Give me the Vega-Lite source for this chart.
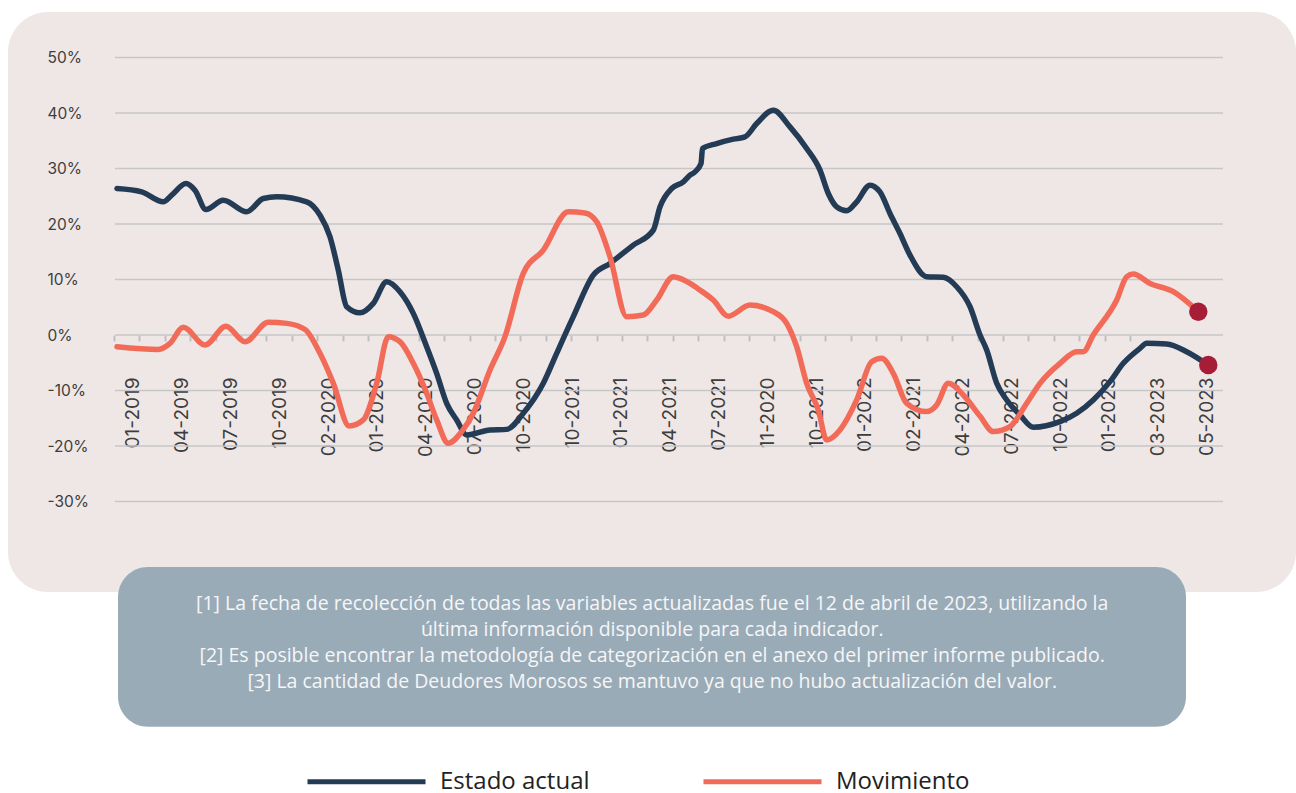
{
  "$schema": "https://vega.github.io/schema/vega-lite/v6.json",
  "width": 1288,
  "height": 580,
  "autosize": {"type": "none"},
  "padding": {"left": 8, "top": 12, "right": 0, "bottom": 201},
  "background": "#ffffff",
  "config": {
    "view": {"fill": "#efe7e6", "stroke": null, "cornerRadius": 40},
    "font": "Open Sans"
  },
  "resolve": {"axis": {"x": "independent"}},
  "datasets": {
    "rejilla": [{"v": -30}, {"v": -20}, {"v": -10}, {"v": 0}, {"v": 10}, {"v": 20}, {"v": 30}, {"v": 40}, {"v": 50}],
    "series": [
      {"serie": "Estado actual", "t": -0.328, "v": 26.4},
      {"serie": "Estado actual", "t": 0.178, "v": 25.8},
      {"serie": "Estado actual", "t": 0.621, "v": 24.0},
      {"serie": "Estado actual", "t": 0.793, "v": 25.2},
      {"serie": "Estado actual", "t": 1.086, "v": 27.3},
      {"serie": "Estado actual", "t": 1.27, "v": 26.1},
      {"serie": "Estado actual", "t": 1.496, "v": 22.6},
      {"serie": "Estado actual", "t": 1.85, "v": 24.3},
      {"serie": "Estado actual", "t": 2.33, "v": 22.2},
      {"serie": "Estado actual", "t": 2.67, "v": 24.6},
      {"serie": "Estado actual", "t": 2.945, "v": 24.9},
      {"serie": "Estado actual", "t": 3.559, "v": 24.0},
      {"serie": "Estado actual", "t": 3.832, "v": 21.6},
      {"serie": "Estado actual", "t": 4.037, "v": 17.7},
      {"serie": "Estado actual", "t": 4.207, "v": 11.7},
      {"serie": "Estado actual", "t": 4.379, "v": 5.1},
      {"serie": "Estado actual", "t": 4.652, "v": 4.0},
      {"serie": "Estado actual", "t": 4.924, "v": 5.7},
      {"serie": "Estado actual", "t": 5.199, "v": 9.6},
      {"serie": "Estado actual", "t": 5.471, "v": 7.8},
      {"serie": "Estado actual", "t": 5.744, "v": 3.9},
      {"serie": "Estado actual", "t": 6.018, "v": -2.1},
      {"serie": "Estado actual", "t": 6.223, "v": -6.9},
      {"serie": "Estado actual", "t": 6.428, "v": -12.3},
      {"serie": "Estado actual", "t": 6.633, "v": -15.3},
      {"serie": "Estado actual", "t": 6.838, "v": -18.0},
      {"serie": "Estado actual", "t": 7.316, "v": -17.1},
      {"serie": "Estado actual", "t": 7.658, "v": -17.0},
      {"serie": "Estado actual", "t": 7.998, "v": -14.1},
      {"serie": "Estado actual", "t": 8.408, "v": -8.7},
      {"serie": "Estado actual", "t": 8.682, "v": -3.3},
      {"serie": "Estado actual", "t": 9.023, "v": 3.3},
      {"serie": "Estado actual", "t": 9.432, "v": 10.8},
      {"serie": "Estado actual", "t": 9.775, "v": 12.9},
      {"serie": "Estado actual", "t": 10.252, "v": 16.2},
      {"serie": "Estado actual", "t": 10.662, "v": 18.9},
      {"serie": "Estado actual", "t": 10.799, "v": 23.1},
      {"serie": "Estado actual", "t": 11.039, "v": 26.4},
      {"serie": "Estado actual", "t": 11.277, "v": 27.6},
      {"serie": "Estado actual", "t": 11.414, "v": 28.8},
      {"serie": "Estado actual", "t": 11.516, "v": 29.4},
      {"serie": "Estado actual", "t": 11.64, "v": 30.9},
      {"serie": "Estado actual", "t": 11.67, "v": 33.6},
      {"serie": "Estado actual", "t": 11.961, "v": 34.5},
      {"serie": "Estado actual", "t": 12.301, "v": 35.3},
      {"serie": "Estado actual", "t": 12.541, "v": 35.7},
      {"serie": "Estado actual", "t": 12.781, "v": 38.1},
      {"serie": "Estado actual", "t": 13.121, "v": 40.5},
      {"serie": "Estado actual", "t": 13.463, "v": 37.5},
      {"serie": "Estado actual", "t": 13.805, "v": 33.6},
      {"serie": "Estado actual", "t": 14.078, "v": 29.7},
      {"serie": "Estado actual", "t": 14.248, "v": 25.5},
      {"serie": "Estado actual", "t": 14.42, "v": 23.1},
      {"serie": "Estado actual", "t": 14.625, "v": 22.4},
      {"serie": "Estado actual", "t": 14.83, "v": 24.0},
      {"serie": "Estado actual", "t": 15.102, "v": 27.0},
      {"serie": "Estado actual", "t": 15.307, "v": 25.8},
      {"serie": "Estado actual", "t": 15.512, "v": 21.9},
      {"serie": "Estado actual", "t": 15.717, "v": 18.3},
      {"serie": "Estado actual", "t": 15.922, "v": 14.4},
      {"serie": "Estado actual", "t": 16.264, "v": 10.5},
      {"serie": "Estado actual", "t": 16.605, "v": 10.4},
      {"serie": "Estado actual", "t": 16.879, "v": 8.7},
      {"serie": "Estado actual", "t": 17.152, "v": 5.1},
      {"serie": "Estado actual", "t": 17.357, "v": 0.0},
      {"serie": "Estado actual", "t": 17.494, "v": -2.7},
      {"serie": "Estado actual", "t": 17.699, "v": -8.7},
      {"serie": "Estado actual", "t": 17.904, "v": -11.7},
      {"serie": "Estado actual", "t": 18.176, "v": -14.4},
      {"serie": "Estado actual", "t": 18.449, "v": -16.6},
      {"serie": "Estado actual", "t": 18.996, "v": -15.6},
      {"serie": "Estado actual", "t": 19.338, "v": -14.1},
      {"serie": "Estado actual", "t": 19.678, "v": -11.7},
      {"serie": "Estado actual", "t": 20.02, "v": -8.4},
      {"serie": "Estado actual", "t": 20.293, "v": -5.1},
      {"serie": "Estado actual", "t": 20.635, "v": -2.4},
      {"serie": "Estado actual", "t": 20.773, "v": -1.5},
      {"serie": "Estado actual", "t": 21.182, "v": -1.6},
      {"serie": "Estado actual", "t": 21.592, "v": -3.0},
      {"serie": "Estado actual", "t": 22.035, "v": -5.4},
      {"serie": "Movimiento", "t": -0.328, "v": -2.1},
      {"serie": "Movimiento", "t": 0.518, "v": -2.6},
      {"serie": "Movimiento", "t": 0.758, "v": -1.5},
      {"serie": "Movimiento", "t": 1.031, "v": 1.4},
      {"serie": "Movimiento", "t": 1.475, "v": -1.8},
      {"serie": "Movimiento", "t": 1.906, "v": 1.6},
      {"serie": "Movimiento", "t": 2.295, "v": -1.2},
      {"serie": "Movimiento", "t": 2.773, "v": 2.3},
      {"serie": "Movimiento", "t": 3.15, "v": 2.1},
      {"serie": "Movimiento", "t": 3.525, "v": 1.0},
      {"serie": "Movimiento", "t": 3.832, "v": -3.3},
      {"serie": "Movimiento", "t": 4.105, "v": -8.7},
      {"serie": "Movimiento", "t": 4.432, "v": -16.4},
      {"serie": "Movimiento", "t": 4.719, "v": -15.3},
      {"serie": "Movimiento", "t": 4.994, "v": -8.7},
      {"serie": "Movimiento", "t": 5.232, "v": -0.3},
      {"serie": "Movimiento", "t": 5.471, "v": -1.2},
      {"serie": "Movimiento", "t": 5.744, "v": -5.1},
      {"serie": "Movimiento", "t": 6.018, "v": -10.5},
      {"serie": "Movimiento", "t": 6.223, "v": -15.3},
      {"serie": "Movimiento", "t": 6.461, "v": -19.5},
      {"serie": "Movimiento", "t": 6.736, "v": -17.4},
      {"serie": "Movimiento", "t": 6.973, "v": -14.1},
      {"serie": "Movimiento", "t": 7.316, "v": -6.3},
      {"serie": "Movimiento", "t": 7.623, "v": -0.3},
      {"serie": "Movimiento", "t": 7.998, "v": 11.1},
      {"serie": "Movimiento", "t": 8.408, "v": 15.3},
      {"serie": "Movimiento", "t": 8.92, "v": 22.2},
      {"serie": "Movimiento", "t": 9.262, "v": 22.0},
      {"serie": "Movimiento", "t": 9.502, "v": 20.4},
      {"serie": "Movimiento", "t": 9.775, "v": 14.1},
      {"serie": "Movimiento", "t": 10.117, "v": 3.3},
      {"serie": "Movimiento", "t": 10.457, "v": 3.6},
      {"serie": "Movimiento", "t": 10.732, "v": 6.3},
      {"serie": "Movimiento", "t": 11.072, "v": 10.5},
      {"serie": "Movimiento", "t": 11.209, "v": 10.2},
      {"serie": "Movimiento", "t": 11.414, "v": 9.3},
      {"serie": "Movimiento", "t": 11.619, "v": 8.1},
      {"serie": "Movimiento", "t": 11.891, "v": 6.3},
      {"serie": "Movimiento", "t": 12.199, "v": 3.4},
      {"serie": "Movimiento", "t": 12.643, "v": 5.4},
      {"serie": "Movimiento", "t": 13.121, "v": 4.2},
      {"serie": "Movimiento", "t": 13.395, "v": 2.1},
      {"serie": "Movimiento", "t": 13.6, "v": -2.1},
      {"serie": "Movimiento", "t": 13.805, "v": -8.7},
      {"serie": "Movimiento", "t": 14.043, "v": -13.5},
      {"serie": "Movimiento", "t": 14.215, "v": -18.9},
      {"serie": "Movimiento", "t": 14.488, "v": -17.1},
      {"serie": "Movimiento", "t": 14.83, "v": -11.7},
      {"serie": "Movimiento", "t": 15.137, "v": -4.8},
      {"serie": "Movimiento", "t": 15.342, "v": -4.2},
      {"serie": "Movimiento", "t": 15.58, "v": -6.9},
      {"serie": "Movimiento", "t": 15.854, "v": -12.3},
      {"serie": "Movimiento", "t": 16.264, "v": -13.8},
      {"serie": "Movimiento", "t": 16.469, "v": -12.6},
      {"serie": "Movimiento", "t": 16.707, "v": -8.7},
      {"serie": "Movimiento", "t": 17.014, "v": -10.8},
      {"serie": "Movimiento", "t": 17.356, "v": -14.6},
      {"serie": "Movimiento", "t": 17.629, "v": -17.4},
      {"serie": "Movimiento", "t": 17.971, "v": -16.5},
      {"serie": "Movimiento", "t": 18.314, "v": -12.3},
      {"serie": "Movimiento", "t": 18.586, "v": -8.7},
      {"serie": "Movimiento", "t": 18.996, "v": -5.1},
      {"serie": "Movimiento", "t": 19.338, "v": -3.0},
      {"serie": "Movimiento", "t": 19.473, "v": -3.0},
      {"serie": "Movimiento", "t": 19.678, "v": 0.0},
      {"serie": "Movimiento", "t": 20.158, "v": 6.3},
      {"serie": "Movimiento", "t": 20.363, "v": 10.5},
      {"serie": "Movimiento", "t": 20.498, "v": 11.0},
      {"serie": "Movimiento", "t": 20.84, "v": 9.3},
      {"serie": "Movimiento", "t": 21.318, "v": 7.8},
      {"serie": "Movimiento", "t": 21.83, "v": 4.2}
    ]
  },
  "layer": [
    {
      "data": {"name": "rejilla"},
      "mark": {"type": "rule", "color": "#c6c6c6", "strokeWidth": 1.6},
      "encoding": {
        "y": {"field": "v", "type": "quantitative", "scale": {"domain": [-46.3, 58.2], "nice": false, "zero": false},
              "axis": {"orient": "left", "offset": -39, "title": null, "domain": false, "ticks": false, "tickSize": 0, "grid": false,
                       "values": [-30, -20, -10, 0, 10, 20, 30, 40, 50], "labelExpr": "datum.value + '%'", "labelAlign": "left", "labelPadding": 0,
                       "labelFontSize": 15.5, "labelFont": "Inter", "labelColor": "#3d3d3d", "labelFlush": false}},
        "x": {"datum": -0.369, "type": "quantitative", "scale": {"domain": [-2.561, 23.832], "nice": false, "zero": false},
              "axis": {"orient": "bottom", "offset": -257, "title": null, "domain": false, "grid": false, "labels": false,
                       "values": [-0.389, 0.1315, 0.652, 1.1725, 1.693, 2.2135, 2.734, 3.2545, 3.775, 4.2955, 4.816, 5.3365, 5.857, 6.3775, 6.898, 7.4185, 7.939, 8.4595, 8.981, 9.5005, 10.021, 10.5415, 11.062, 11.5825, 12.103, 12.6235, 13.144, 13.6645, 14.185, 14.7055, 15.226, 15.7465, 16.267, 16.7875, 17.308, 17.8285, 18.349, 18.8695, 19.391, 19.9105, 20.431],
                       "tickSize": 6, "tickWidth": 2, "tickColor": "#c0c0c0"}},
        "x2": {"datum": 22.336}
      }
    },
    {
      "data": {"values": [{}]},
      "mark": {"type": "rect", "color": "#9aabb8", "cornerRadius": 30},
      "encoding": {
        "x": {"datum": -0.307, "type": "quantitative", "scale": {"domain": [-2.561, 23.832], "nice": false, "zero": false}, "axis": null},
        "x2": {"datum": 21.578},
        "y": {"datum": -41.8, "type": "quantitative", "scale": {"domain": [-46.3, 58.2], "nice": false, "zero": false}},
        "y2": {"datum": -70.6}
      }
    },
    {
      "data": {"values": [{"nota": "[1] La fecha de recolección de todas las variables actualizadas fue el 12 de abril de 2023, utilizando la\núltima información disponible para cada indicador.\n[2] Es posible encontrar la metodología de categorización en el anexo del primer informe publicado.\n[3] La cantidad de Deudores Morosos se mantuvo ya que no hubo actualización del valor."}]},
      "mark": {"type": "text", "align": "center", "baseline": "middle", "lineBreak": "\n", "lineHeight": 26, "fontSize": 19.5, "font": "Open Sans", "color": "#f6f6f6"},
      "encoding": {
        "x": {"datum": 10.64, "type": "quantitative", "scale": {"domain": [-2.561, 23.832], "nice": false, "zero": false}, "axis": null},
        "y": {"datum": -48.5, "type": "quantitative", "scale": {"domain": [-46.3, 58.2], "nice": false, "zero": false}},
        "text": {"field": "nota", "type": "nominal"}
      }
    },
    {
      "data": {"name": "series"},
      "mark": {"type": "line", "interpolate": "monotone", "strokeWidth": 5.5, "strokeCap": "round", "strokeJoin": "round"},
      "encoding": {
        "x": {"field": "t", "type": "quantitative", "scale": {"domain": [-2.561, 23.832], "nice": false, "zero": false},
              "axis": {"orient": "bottom", "offset": -257, "title": null, "domain": false, "grid": false,
                       "values": [0, 1, 2, 3, 4, 5, 6, 7, 8, 9, 10, 11, 12, 13, 14, 15, 16, 17, 18, 19, 20, 21, 22],
                       "labelExpr": "['01-2019','04-2019','07-2019','10-2019','02-2020','01-2020','04-2020','07-2020','10-2020','10-2021','01-2021','04-2021','07-2021','11-2020','10-2021','01-2022','02-2021','04-2022','07-2022','10-2022','01-2023','03-2023','05-2023'][datum.value]",
                       "labelAngle": 270, "labelAlign": "right", "labelBaseline": "middle", "labelPadding": 36,
                       "labelFontSize": 19, "labelFont": "Inter", "labelColor": "#3d3d3d",
                       "labelOverlap": false, "labelFlush": false, "labelBound": false,
                       "tickSize": 6, "tickOpacity": 0}},
        "y": {"field": "v", "type": "quantitative", "scale": {"domain": [-46.3, 58.2], "nice": false, "zero": false}},
        "color": {"field": "serie", "type": "nominal",
                  "scale": {"domain": ["Estado actual", "Movimiento"], "range": ["#243b55", "#f26b58"]},
                  "legend": {"orient": "none", "legendX": 297, "legendY": 708, "direction": "horizontal", "title": null,
                             "symbolType": "stroke", "symbolSize": 13924, "symbolStrokeWidth": 5,
                             "labelFontSize": 24, "labelFont": "Open Sans", "labelColor": "#222222", "labelOffset": 12, "labelLimit": 400, "columnPadding": 103}}
      }
    },
    {
      "data": {"name": "series"},
      "transform": [
        {"joinaggregate": [{"op": "max", "field": "t", "as": "tmax"}], "groupby": ["serie"]},
        {"filter": "datum.t == datum.tmax"}
      ],
      "mark": {"type": "point", "filled": true, "opacity": 1, "size": 340, "color": "#a51d36"},
      "encoding": {
        "x": {"field": "t", "type": "quantitative", "scale": {"domain": [-2.561, 23.832], "nice": false, "zero": false}, "axis": null},
        "y": {"field": "v", "type": "quantitative", "scale": {"domain": [-46.3, 58.2], "nice": false, "zero": false}}
      }
    }
  ]
}
